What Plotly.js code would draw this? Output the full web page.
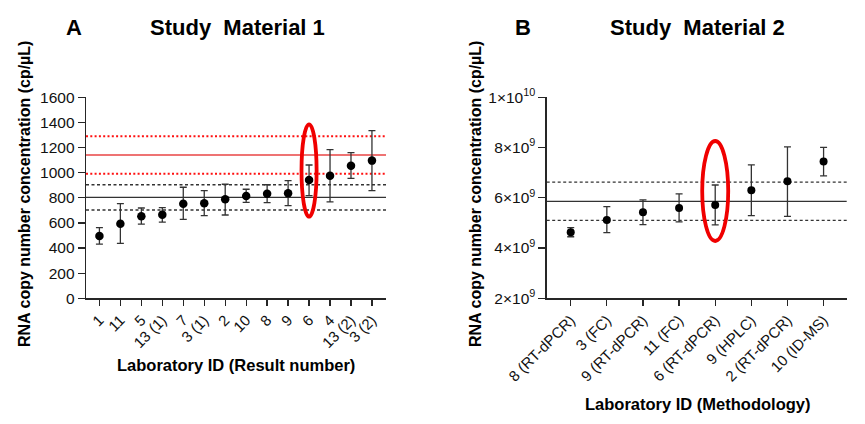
<!DOCTYPE html>
<html>
<head>
<meta charset="utf-8">
<script src="https://cdn.plot.ly/plotly-3.0.1.min.js"></script>
<style>html,body{margin:0;padding:0;background:#fff;}#chart{width:865px;height:424px;}</style>
</head>
<body>
<div id="chart"></div>
<script>
// ---- Panel A data ----
var catsA = ["1","11","5","13 (1)","7","3 (1)","2","10","8","9","6","4","13 (2)","3 (2)"];
var valsA = [496,594,653,666,753,756,788,814,833,836,942,976,1056,1096];
var upperA = [562,753,719,721,884,857,908,868,904,936,1061,1183,1159,1334];
var lowerA = [432,438,591,607,629,658,663,764,761,737,817,767,955,857];
var meanA = 804, lowA = 703, highA = 904;
var redMeanA = 1141, redLowA = 992, redHighA = 1290;
var highlightA = {cat: "6", y0: 650, y1: 1385};
var yTicksA = [0,200,400,600,800,1000,1200,1400,1600];

// ---- Panel B data ----
var catsB = ["8 (RT-dPCR)","3 (FC)","9 (RT-dPCR)","11 (FC)","6 (RT-dPCR)","9 (HPLC)","2 (RT-dPCR)","10 (ID-MS)"];
var valsB = [4.63e9,5.12e9,5.42e9,5.59e9,5.71e9,6.30e9,6.66e9,7.44e9];
var upperB = [4.81e9,5.65e9,5.92e9,6.16e9,6.51e9,7.31e9,8.03e9,8.01e9];
var lowerB = [4.45e9,4.61e9,4.93e9,5.04e9,4.92e9,5.29e9,5.26e9,6.87e9];
var meanB = 5.86e9, lowB = 5.10e9, highB = 6.62e9;
var highlightB = {cat: "6 (RT-dPCR)", y0: 4.28e9, y1: 8.26e9};
var yTickValsB = [2e9,4e9,6e9,8e9,1e10];
var yTickTextB = ["2×10<sup>9</sup>","4×10<sup>9</sup>","6×10<sup>9</sup>","8×10<sup>9</sup>","1×10<sup>10</sup>"];

var FONT = "Liberation Sans, Arial, sans-serif";
var AX = "#262626";

function errs(v, up, lo){
  return {
    type: "data", symmetric: false,
    array: up.map(function(u,i){return u - v[i];}),
    arrayminus: lo.map(function(l,i){return v[i] - l;}),
    color: "#333", thickness: 1.3, width: 3.5
  };
}

var traceA = {
  x: catsA, y: valsA, type: "scatter", mode: "markers",
  marker: {color: "#000", size: 8.5},
  error_y: errs(valsA, upperA, lowerA),
  xaxis: "x", yaxis: "y", hoverinfo: "none"
};
var traceB = {
  x: catsB, y: valsB, type: "scatter", mode: "markers",
  marker: {color: "#000", size: 8},
  error_y: errs(valsB, upperB, lowerB),
  xaxis: "x2", yaxis: "y2", hoverinfo: "none"
};

function hline(xr, yr, y, color, width, dash){
  return {type: "line", xref: xr + " domain", yref: yr, x0: 0, x1: 1, y0: y, y1: y,
          line: {color: color, width: width, dash: dash}, layer: "below"};
}
function ellipse(xr, yr, idx, y0, y1){
  return {type: "circle", xref: xr, yref: yr, x0: idx - 0.36, x1: idx + 0.36, y0: y0, y1: y1,
          line: {color: "#f00000", width: 3.8}, layer: "above"};
}

var shapes = [
  hline("x","y", meanA, "#333", 1.3, "solid"),
  hline("x","y", lowA, "#333", 1.3, "3px,2.5px"),
  hline("x","y", highA, "#333", 1.3, "3px,2.5px"),
  hline("x","y", redMeanA, "#e84545", 1.4, "solid"),
  hline("x","y", redLowA, "#ff1010", 2, "2px,2.3px"),
  hline("x","y", redHighA, "#ff1010", 2, "2px,2.3px"),
  ellipse("x","y", catsA.indexOf(highlightA.cat), highlightA.y0, highlightA.y1),
  hline("x2","y2", meanB, "#333", 1.3, "solid"),
  hline("x2","y2", lowB, "#333", 1.3, "3px,2.5px"),
  hline("x2","y2", highB, "#333", 1.3, "3px,2.5px"),
  ellipse("x2","y2", catsB.indexOf(highlightB.cat), highlightB.y0, highlightB.y1)
];

var yDom = [1 - 298.3/424, 1 - 97.3/424];
function xax(dom, rng, anchor){
  return {
    domain: dom, range: rng, type: "category", showgrid: false, zeroline: false,
    showline: true, linecolor: AX, linewidth: 1.3, ticks: "outside", ticklen: 6,
    tickwidth: 1.3, tickcolor: AX, tickangle: -45, anchor: anchor,
    tickfont: {family: FONT, size: 15, color: "#111"}
  };
}
function yax(dom, anchor){
  return {
    domain: dom, showgrid: false, zeroline: false, showline: true, linecolor: AX,
    linewidth: 1.3, ticks: "outside", ticklen: 7, tickwidth: 1.3, tickcolor: AX,
    tickfont: {family: FONT, size: 15.5, color: "#111"}, anchor: anchor
  };
}

var xa1 = xax([86/865, 386/865], [-0.64, 13.67], "y");
var xa2 = xax([546.7/865, 846.7/865], [-0.665, 7.64], "y2");
var ya1 = yax(yDom, "x"); ya1.range = [0, 1600]; ya1.tickvals = yTicksA;
var ya2 = yax(yDom, "x2"); ya2.range = [2e9, 1e10]; ya2.tickvals = yTickValsB; ya2.ticktext = yTickTextB;

function ann(text, x, y, size, angle){
  return {text: text, xref: "paper", yref: "paper", x: x/865, y: 1 - y/424,
          xanchor: "center", yanchor: "middle", showarrow: false, textangle: angle || 0,
          font: {family: FONT, size: size, color: "#000", weight: "bold"}};
}

var layout = {
  width: 865, height: 424, margin: {l: 0, r: 0, t: 0, b: 0},
  paper_bgcolor: "#fff", plot_bgcolor: "#fff", showlegend: false,
  xaxis: xa1, yaxis: ya1, xaxis2: xa2, yaxis2: ya2,
  shapes: shapes,
  annotations: [
    ann("<b>A</b>", 74, 28, 22),
    ann("<b>Study\u00a0 Material 1</b>", 237.5, 28, 22),
    ann("<b>B</b>", 523, 28, 22),
    ann("<b>Study\u00a0 Material 2</b>", 697.5, 28, 22),
    ann("<b>RNA copy number concentration (cp/µL)</b>", 25, 194, 16, -90),
    ann("<b>RNA copy number concentration (cp/µL)</b>", 476, 194, 16, -90),
    ann("<b>Laboratory ID (Result number)</b>", 235.5, 365, 16.5),
    ann("<b>Laboratory ID (Methodology)</b>", 698, 404, 16.5)
  ]
};

Plotly.newPlot("chart", [traceA, traceB], layout, {staticPlot: true, displayModeBar: false});
</script>
</body>
</html>
